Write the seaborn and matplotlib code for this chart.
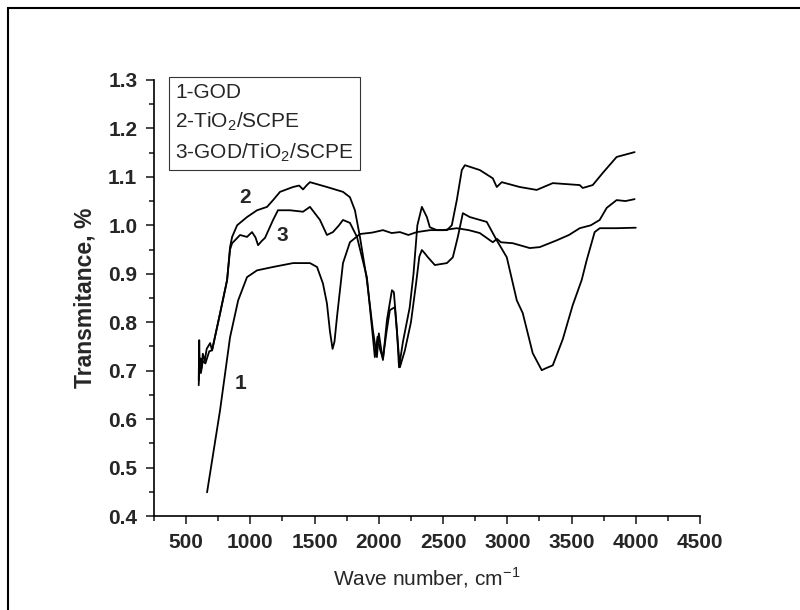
import numpy as np
import pandas as pd
import matplotlib.pyplot as plt
import seaborn as sns
from matplotlib.patches import Rectangle
from matplotlib.ticker import MultipleLocator

sns.set_style("ticks")
plt.rcParams['font.family'] = ['Liberation Sans', 'DejaVu Sans']
plt.rcParams['mathtext.fontset'] = 'custom'
plt.rcParams['mathtext.rm'] = 'Liberation Sans'
plt.rcParams['mathtext.bf'] = 'Liberation Sans:bold'

# curve 1 - GOD
x1 = [663, 764, 842, 905, 974, 1052, 1177, 1332, 1464, 1519, 1565, 1596, 1620, 1640, 1655,
      1674, 1721, 1775, 1853, 1950, 2032, 2100, 2164, 2230, 2296, 2400, 2500, 2607, 2700,
      2786, 2887, 2920, 2950, 3043, 3175, 3253, 3385, 3480, 3564, 3650, 3719, 3774, 3851,
      3920, 3991]
y1 = [0.449, 0.618, 0.769, 0.845, 0.893, 0.907, 0.914, 0.922, 0.922, 0.914, 0.88, 0.839,
      0.78, 0.745, 0.76, 0.81, 0.922, 0.965, 0.982, 0.985, 0.99, 0.984, 0.986, 0.98, 0.986,
      0.99, 0.99, 0.994, 0.99, 0.984, 0.965, 0.972, 0.965, 0.963, 0.953, 0.955, 0.969, 0.98,
      0.994, 1.0, 1.011, 1.036, 1.052, 1.05, 1.054]

# curve 2 - TiO2/SCPE
x2 = [598, 602, 606, 612, 620, 630, 645, 660, 687, 702, 764, 819, 842, 858, 897, 974, 1052,
      1130, 1177, 1231, 1332, 1380, 1410, 1440, 1464, 1596, 1721, 1775, 1814, 1853, 1907,
      1954, 1985, 2000, 2015, 2032, 2063, 2102, 2117, 2141, 2157, 2188, 2240, 2270, 2300,
      2335, 2374, 2397, 2452, 2530, 2568, 2607, 2646, 2670, 2786, 2887, 2918, 2957, 3097,
      3229, 3354, 3564, 3587, 3665, 3743, 3851, 3991]
y2 = [0.68, 0.763, 0.70, 0.725, 0.705, 0.735, 0.72, 0.745, 0.757, 0.742, 0.818, 0.887,
      0.955, 0.976, 1.0, 1.017, 1.031, 1.038, 1.052, 1.069, 1.079, 1.082, 1.074, 1.083,
      1.089, 1.079, 1.069, 1.058, 1.031, 0.976, 0.887, 0.783, 0.728, 0.777, 0.75, 0.722,
      0.804, 0.866, 0.862, 0.784, 0.707, 0.76, 0.83, 0.90, 1.0, 1.038, 1.017, 0.996, 0.99,
      0.99, 1.0, 1.052, 1.114, 1.124, 1.114, 1.097, 1.079, 1.089, 1.079, 1.073, 1.087,
      1.083, 1.077, 1.083, 1.108, 1.141, 1.151]

# curve 3 - GOD/TiO2/SCPE
x3 = [598, 605, 615, 630, 650, 680, 702, 764, 819, 842, 858, 920, 974, 1013, 1040, 1060,
      1090, 1114, 1177, 1215, 1309, 1410, 1464, 1542, 1596, 1643, 1690, 1721, 1775, 1830,
      1907, 1954, 1969, 1990, 2008, 2032, 2060, 2086, 2125, 2148, 2164, 2203, 2250, 2290,
      2315, 2335, 2358, 2382, 2436, 2530, 2576, 2615, 2654, 2708, 2840, 2918, 2996, 3074,
      3120, 3198, 3268, 3300, 3354, 3432, 3509, 3579, 3618, 3680, 3720, 3850, 4000]
y3 = [0.67, 0.72, 0.695, 0.72, 0.715, 0.74, 0.742, 0.818, 0.887, 0.95, 0.963, 0.98, 0.976,
      0.986, 0.975, 0.959, 0.968, 0.974, 1.011, 1.031, 1.031, 1.028, 1.038, 1.011, 0.98,
      0.986, 1.0, 1.011, 1.005, 0.976, 0.893, 0.769, 0.728, 0.77, 0.745, 0.725, 0.78, 0.825,
      0.831, 0.757, 0.707, 0.742, 0.80, 0.88, 0.935, 0.949, 0.942, 0.934, 0.918, 0.922,
      0.934, 0.976, 1.025, 1.017, 1.007, 0.969, 0.934, 0.845, 0.819, 0.736, 0.701, 0.705,
      0.711, 0.765, 0.835, 0.887, 0.928, 0.986, 0.994, 0.994, 0.995]

labels = ["1", "2", "3"]
label_x = [920, 959, 1246]
label_y = [0.674, 1.058, 0.978]
legend_names = ["1-GOD", "2-TiO$_2$/SCPE", "3-GOD/TiO$_2$/SCPE"]

fig = plt.figure(figsize=(8, 6.1), dpi=100)
ax = fig.add_axes([0.1925, 0.154, 0.6825, 0.715])

for xs, ys, name in zip([x1, x2, x3], [y1, y2, y3], legend_names):
    df = pd.DataFrame({"x": xs, "y": ys})
    sns.lineplot(data=df, x="x", y="y", ax=ax, color="black", lw=1.3, sort=False,
                 estimator=None, label=name)

for t, tx, ty in zip(labels, label_x, label_y):
    ax.text(tx, ty, t, fontsize=15, fontweight="bold", ha="center", va="center")

ax.set_xlim(250, 4500)
ax.set_ylim(0.4, 1.3)
ax.xaxis.set_minor_locator(MultipleLocator(250))
ax.yaxis.set_minor_locator(MultipleLocator(0.05))
ax.set_xticks(range(500, 4501, 500))
yt = np.round(np.arange(0.4, 1.31, 0.1), 1)
ax.set_yticks(yt)
ax.set_yticklabels([f"{v:.1f}" for v in yt])
ax.tick_params(which="major", length=6, width=1.2, labelsize=15, direction="out", pad=6)
ax.tick_params(which="minor", length=3.5, width=1.2, direction="out")
for lab in ax.get_xticklabels() + ax.get_yticklabels():
    lab.set_fontweight("bold")
sns.despine(ax=ax)
for s in ["left", "bottom"]:
    ax.spines[s].set_linewidth(1.2)
    ax.spines[s].set_color("black")

ax.set_xlabel("Wave number, cm$^{-1}$", fontsize=15, labelpad=10)
ax.set_ylabel("Transmitance, %", fontsize=16.5, fontweight="bold", labelpad=8)

leg = ax.legend(loc="upper left", bbox_to_anchor=(0.027, 1.007), borderaxespad=0,
                handlelength=0, handletextpad=0, fontsize=15, frameon=True,
                fancybox=False, borderpad=0.3, labelspacing=0.4)
leg.get_frame().set_edgecolor("black")
leg.get_frame().set_linewidth(0.8)
for h in leg.legend_handles:
    h.set_visible(False)

fig.patches.append(Rectangle((0.01, -0.1), 1.2, 1.087, transform=fig.transFigure,
                             fill=False, edgecolor="black", lw=1.5))

fig.savefig("out.png", dpi=100)
